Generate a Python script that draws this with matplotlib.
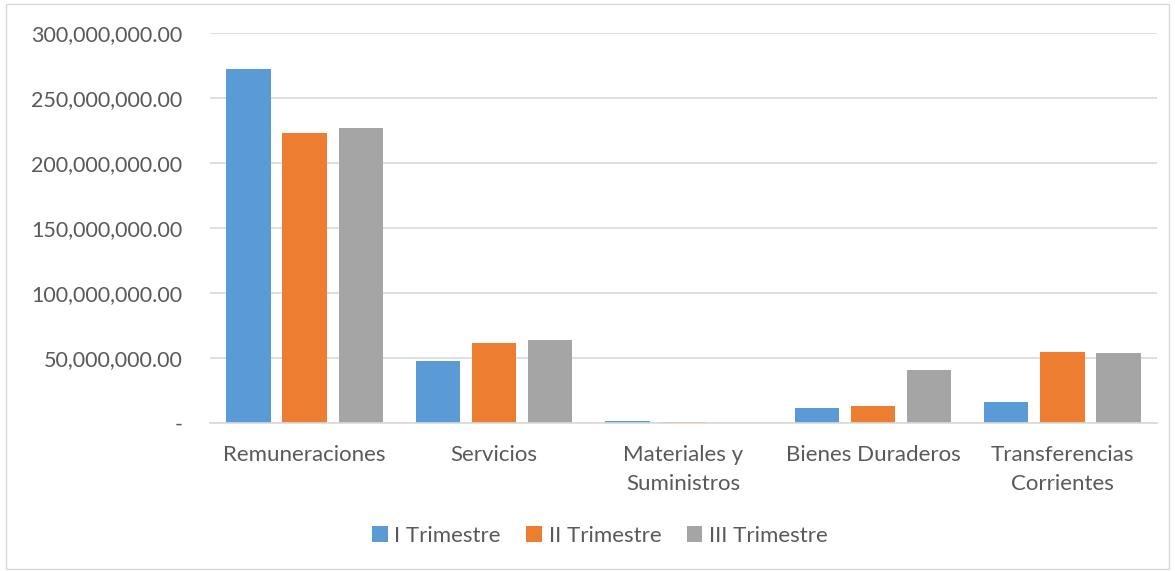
import matplotlib
matplotlib.use("Agg")
import matplotlib.pyplot as plt
import numpy as np
from matplotlib.patches import Rectangle
from matplotlib.ticker import FuncFormatter

categorias = ["Remuneraciones", "Servicios", "Materiales y\nSuministros",
              "Bienes Duraderos", "Transferencias\nCorrientes"]
series = ["I Trimestre", "II Trimestre", "III Trimestre"]
trim_1 = [271.8e6, 47.7e6, 1.5e6, 11.5e6, 15.9e6]
trim_2 = [222.8e6, 61.1e6, 0.8e6, 12.6e6, 54.1e6]
trim_3 = [226.7e6, 63.7e6, 0.1e6, 40.5e6, 53.6e6]
colores = ["#5B9BD5", "#ED7D31", "#A5A5A5"]

plt.rcParams['font.family'] = ['Lato', 'DejaVu Sans']
texto = "#595959"

fig = plt.figure(figsize=(11.75, 5.71), dpi=100)
ax = fig.add_axes([210 / 1175, 1 - 422.7 / 571, (1157 - 210) / 1175, (422.7 - 32.7) / 571])

x = np.arange(len(categorias))
paso = 0.296
ancho = 0.235
for i, (vals, nombre) in enumerate(zip([trim_1, trim_2, trim_3], series)):
    ax.bar(x + (i - 1) * paso, vals, ancho, color=colores[i], label=nombre,
           linewidth=0, zorder=3)

ax.set_xlim(-0.5, len(categorias) - 0.5)
ax.set_ylim(0, 300e6)
ax.set_yticks(np.arange(0, 300e6 + 1, 50e6))
ax.yaxis.set_major_formatter(FuncFormatter(lambda v, p: "-" if v == 0 else f"{v:,.2f}"))
ax.grid(axis="y", color="#D9D9D9", linewidth=1.2, zorder=0)
for s in ["top", "right", "left"]:
    ax.spines[s].set_visible(False)
ax.spines["bottom"].set_color("#D9D9D9")
ax.spines["bottom"].set_linewidth(1.2)
ax.spines["bottom"].set_zorder(4)
ax.set_xticks(x)
ax.set_xticklabels(categorias, linespacing=1.55)
ax.tick_params(axis="y", length=0, pad=20, labelsize=15.5, labelcolor=texto)
ax.tick_params(axis="x", length=0, pad=16, labelsize=16, labelcolor=texto)

fig.legend(loc="center", bbox_to_anchor=(600 / 1175, 1 - 536 / 571), ncol=3,
           frameon=False, fontsize=16, labelcolor=texto, handlelength=0.7,
           handleheight=0.7, handletextpad=0.3, columnspacing=1.15)

fig.patches.append(Rectangle((6 / 1175, 2 / 571), 1163 / 1175, 565 / 571,
                             transform=fig.transFigure, fill=False,
                             edgecolor="#D9D9D9", linewidth=1))

fig.savefig("out.png", dpi=100)
